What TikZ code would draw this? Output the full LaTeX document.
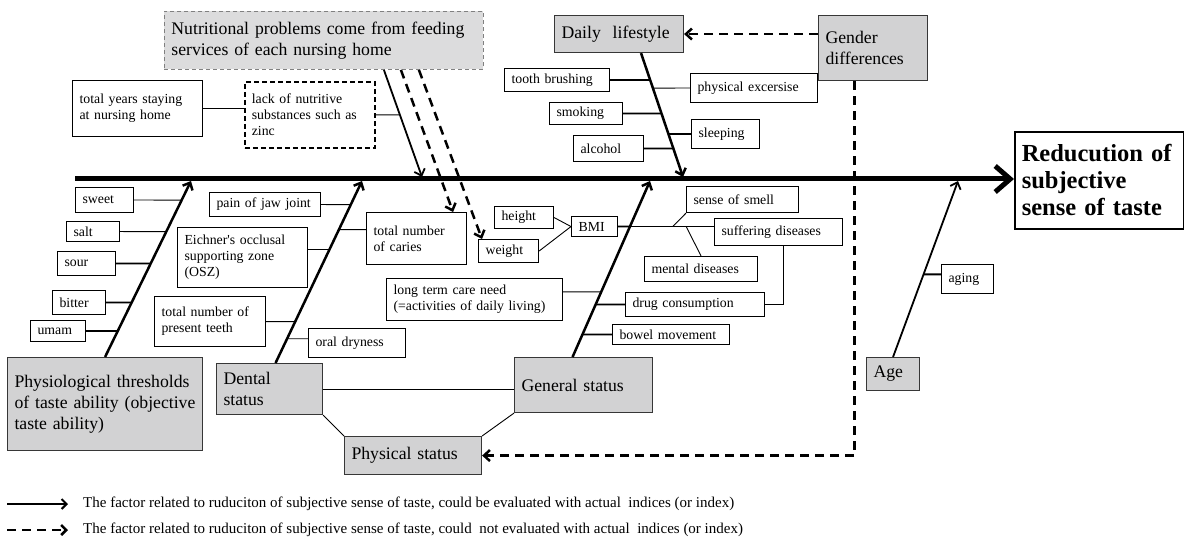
\documentclass[tikz,border=0pt]{standalone}
\usepackage{fontspec}
\setmainfont{Liberation Serif}
\usetikzlibrary{arrows.meta,calc}
\definecolor{boxgray}{RGB}{210,210,211}
\definecolor{nutgray}{RGB}{220,220,221}
\definecolor{edgegray}{RGB}{55,55,55}
\tikzset{
  sbox/.style={draw, fill=white, anchor=north west, align=left, inner xsep=7pt, inner ysep=2pt,
    line width=1.1pt, font=\fontsize{13.8}{16}\selectfont},
  gbox/.style={sbox, fill=boxgray, draw=edgegray, font=\fontsize{17.7}{21}\selectfont},
  wh/.style 2 args={text width=#1pt, minimum height=#2pt},
  spine/.style={line width=5pt, -{Straight Barb[length=15pt,width=26pt]}},
  bone/.style={line width=2.5pt, -{Straight Barb[length=6pt,width=11pt]}},
  dasharrow/.style={line width=2.5pt, dash pattern=on 9pt off 6pt, -{Straight Barb[length=6pt,width=11pt]}},
  thinbr/.style={line width=0.9pt},
  thickbr/.style={line width=1.8pt},
  legtext/.style={anchor=west, inner xsep=2pt, font=\fontsize{15}{17}\selectfont},
}
\begin{document}
\begin{tikzpicture}[x=1pt, y=-1pt]
  \useasboundingbox (0,0) rectangle (1184,540);

  % head and spine
  \node[sbox, wh={155}{97}, line width=1.6pt, font=\fontsize{24.5}{27}\selectfont\bfseries] (result) at (1014,131)
    {Reducution of\\subjective\\sense of taste};
  \coordinate (tail) at (75,179);
  \draw[spine] (tail) -- (tail -| result.west);

  % main causes
  \node[gbox, wh={181}{93}] (physio) at (7,357) {Physiological thresholds\\of taste ability (objective\\taste ability)};
  \node[gbox, wh={92}{51}] (dental) at (216,363) {Dental\\status};
  \node[gbox, wh={124}{55}] (general) at (514,357) {General status};
  \node[gbox, wh={123}{38}] (phys) at (344,436) {Physical status};
  \node[gbox, wh={115}{37}] (daily) at (554,15) {Daily\ \ lifestyle};
  \node[gbox, wh={95}{65}] (gender) at (818,15) {Gender\\differences};
  \node[gbox, wh={39}{33}] (age) at (866,357) {Age};
  \node[gbox, wh={305}{58}, fill=nutgray, draw=gray, line width=0.9pt, dash pattern=on 4pt off 3pt] (nutri) at (164,11)
    {Nutritional problems come from feeding\\services of each nursing home};

  % bones
  \coordinate (p1) at (physio.north);
  \coordinate (p2) at ($(dental.north)+(6,0)$);
  \coordinate (p3) at ($(general.north)+(-11,0)$);
  \coordinate (p4) at ($(daily.south)+(22,0)$);
  \coordinate (p5) at (age.north);
  \coordinate (n1) at ($(nutri.south east)+(-100,0)$);
  \coordinate (n2) at ($(nutri.south east)+(-83,0)$);
  \coordinate (n3) at ($(nutri.south east)+(-65,0)$);
  \coordinate (g1) at (191,181);
  \coordinate (g2) at (362,181);
  \coordinate (g3) at (650,181);
  \coordinate (g4) at (683,177);
  \coordinate (g5) at (958,181);
  \coordinate (n0) at (422,177);
  \draw[bone] (p1) -- (g1);
  \draw[bone] (p2) -- (g2);
  \draw[bone] (p3) -- (g3);
  \draw[bone] (p4) -- (g4);
  \draw[bone, line width=1.8pt] (p5) -- (g5);
  \draw[bone, line width=1.8pt] (n1) -- (n0);

  % taste thresholds
  \node[sbox, wh={44}{25}] (sweet) at (75,187) {sweet};
  \node[sbox, wh={39}{20}] (salt) at (66,221) {salt};
  \node[sbox, wh={44}{24}] (sour) at (57,251) {sour};
  \node[sbox, wh={39}{24}] (bitter) at (52,290) {bitter};
  \node[sbox, wh={41}{21}] (umam) at (30,320) {umam};
  \draw[thinbr] (sweet.east) -- (intersection of sweet.east--sweet.west and p1--g1);
  \draw[thinbr] (salt.east) -- (intersection of salt.east--salt.west and p1--g1);
  \draw[thickbr] (sour.east) -- (intersection of sour.east--sour.west and p1--g1);
  \draw[thickbr] (bitter.east) -- (intersection of bitter.east--bitter.west and p1--g1);
  \draw[thickbr] (umam.east) -- (intersection of umam.east--umam.west and p1--g1);

  % dental
  \node[sbox, wh={97}{24}] (jaw) at (209,192) {pain of jaw joint};
  \node[sbox, wh={86}{52}] (caries) at (366,212) {total number\\of caries};
  \node[sbox, wh={116}{60}] (eichner) at (177,227) {Eichner\textquotesingle s occlusal\\supporting zone\\(OSZ)};
  \node[sbox, wh={97}{50}] (teeth) at (154,296) {total number of\\present teeth};
  \node[sbox, wh={83}{29}] (dry) at (308,328) {oral dryness};
  \draw[thinbr] (jaw.east) -- (intersection of jaw.east--jaw.west and p2--g2);
  \draw[thinbr] (caries.170) -- (intersection of caries.170--caries.10 and p2--g2);
  \draw[thinbr] (eichner.7) -- (intersection of eichner.7--eichner.173 and p2--g2);
  \draw[thinbr] (teeth.east) -- (intersection of teeth.east--teeth.west and p2--g2);
  \draw[thinbr] (dry.175) -- (intersection of dry.175--dry.5 and p2--g2);

  % general
  \node[sbox, wh={45}{22}] (height) at (494,206) {height};
  \node[sbox, wh={46}{23}] (weight) at (478,239) {weight};
  \node[sbox, wh={32}{20}] (bmi) at (571,216) {BMI};
  \node[sbox, wh={98}{26}] (smell) at (686,186) {sense of smell};
  \node[sbox, wh={114}{27}] (suffer) at (714,218) {suffering diseases};
  \node[sbox, wh={99}{25}] (mental) at (644,256) {mental diseases};
  \node[sbox, wh={125}{24}] (drug) at (625,292) {drug consumption};
  \node[sbox, wh={162}{42}] (care) at (386,278) {long term care need\\(=activities of daily living)};
  \node[sbox, wh={103}{20}] (bowel) at (612,324) {bowel movement};
  \draw[thinbr] (height.east) -- (bmi.west);
  \draw[thinbr] (weight.east) -- (bmi.west);
  \draw[thinbr] (bmi.east) -- (bmi.east -| suffer.west);
  \draw[thickbr] (bmi.east) -- (intersection of bmi.east--bmi.west and p3--g3);
  \path (bmi.east) -- (bmi.east -| suffer.west) coordinate[pos=0.57] (k1) coordinate[pos=0.71] (k2);
  \draw[thinbr] (smell.south west) -- (k1);
  \draw[thinbr] (k2) -- (mental.north);
  \draw[thinbr] (care.5) -- (intersection of care.5--care.175 and p3--g3);
  \draw[thickbr] (drug.west) -- (intersection of drug.west--drug.east and p3--g3);
  \draw[thickbr] (bowel.west) -- (intersection of bowel.west--bowel.east and p3--g3);
  \draw[thickbr] (drug.east) -| ([xshift=5pt]suffer.south);

  % daily lifestyle
  \node[sbox, wh={91}{23}] (brush) at (504,68) {tooth brushing};
  \node[sbox, wh={113}{29}] (exer) at (690,73) {physical excersise};
  \node[sbox, wh={59}{22}] (smoke) at (549,102) {smoking};
  \node[sbox, wh={54}{29}] (sleep) at (691,119) {sleeping};
  \node[sbox, wh={56}{26}] (alcohol) at (573,135) {alcohol};
  \draw[thickbr] (brush.east) -- (intersection of brush.east--brush.west and p4--g4);
  \draw[thinbr] (exer.west) -- (intersection of exer.west--exer.east and p4--g4);
  \draw[thickbr] (smoke.east) -- (intersection of smoke.east--smoke.west and p4--g4);
  \draw[thickbr] (sleep.west) -- (intersection of sleep.west--sleep.east and p4--g4);
  \draw[thickbr] (alcohol.east) -- (intersection of alcohol.east--alcohol.west and p4--g4);

  % age
  \node[sbox, wh={38}{29}] (aging) at (941,264) {aging};
  \draw[thickbr] (aging.170) -- (intersection of aging.170--aging.10 and p5--g5);

  % nutrition
  \node[sbox, wh={116}{56}] (totyears) at (72,80) {total years staying\\at nursing home};
  \node[sbox, wh={116}{66}, line width=1.7pt, dash pattern=on 5pt off 3pt] (lackzinc) at (244,81)
    {lack of nutritive\\substances such as\\zinc};
  \draw[thickbr] (totyears.east) -- (totyears.east -| lackzinc.west);
  \draw[thinbr] (lackzinc.east) -- (intersection of lackzinc.east--lackzinc.west and n1--n0);
  \draw[dasharrow] (n2) -- ([xshift=-14pt]caries.north east);
  \draw[dasharrow] (n3) -- ([xshift=4pt]weight.north west);

  % status links
  \draw[thinbr] (dental.east) -- (dental.east -| general.west);
  \draw[thinbr] (dental.south east) -- (phys.north west);
  \draw[thinbr] (general.south west) -- (phys.north east);
  \draw[dasharrow] (daily.east -| gender.west) -- (daily.east);
  \draw[dasharrow] ([xshift=-18.5pt]gender.south) |- (phys.east);

  % legend
  \node[legtext] (leg1) at (81,504) {The factor related to ruduciton of subjective sense of taste, could be evaluated with actual\ \ indices (or index)};
  \node[legtext] (leg2) at (81,530) {The factor related to ruduciton of subjective sense of taste, could\ \ not evaluated with actual\ \ indices (or index)};
  \coordinate (l1) at (7,504);
  \coordinate (l2) at (7,530);
  \draw[line width=2pt, shorten >=13pt, -{Straight Barb[length=5pt,width=10pt]}] (l1) -- (leg1.west);
  \draw[line width=2.5pt, dash pattern=on 9pt off 6pt, shorten >=13pt, -{Straight Barb[length=5pt,width=10pt]}] (l2) -- (leg2.west);
\end{tikzpicture}
\end{document}
